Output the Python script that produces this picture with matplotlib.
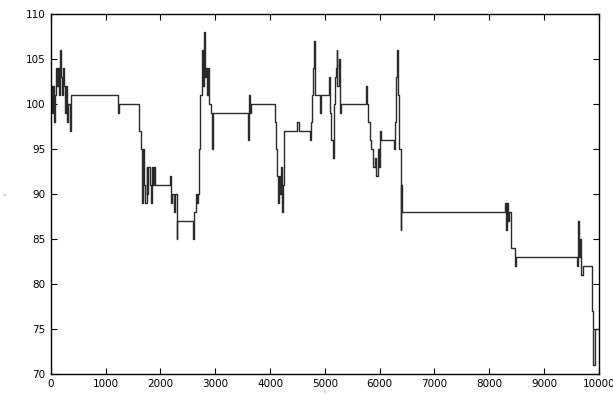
import numpy as np
import matplotlib
matplotlib.use("Agg")
import matplotlib.pyplot as plt

plt.rcParams["font.family"] = ["DejaVu Sans"]

# step points (x = sample index, y = value)
x = [0, 20, 40, 55, 75, 95, 115, 135, 150, 170, 190, 205, 225, 245, 265, 285, 300, 320, 340, 360,
     1228, 1250, 1612, 1640, 1655, 1670, 1690, 1705, 1725, 1745, 1760, 1780, 1800, 1820, 1840, 1860,
     1880, 1900, 2172, 2190, 2210, 2240, 2270, 2293, 2300, 2597, 2610, 2640, 2660, 2680, 2700, 2730,
     2750, 2770, 2792, 2810, 2830, 2850, 2870, 2890, 2920, 2945, 2965, 3601, 3615, 3630, 3650, 4088,
     4106, 4125, 4140, 4160, 4180, 4200, 4220, 4240, 4252, 4500, 4530, 4726, 4745, 4765, 4785, 4799,
     4815, 4909, 4925, 5080, 5100, 5120, 5140, 5160, 5180, 5200, 5213, 5230, 5250, 5270, 5290, 5748,
     5765, 5790, 5821, 5850, 5880, 5910, 5931, 5960, 5980, 6004, 6020, 6259, 6280, 6300, 6320, 6340,
     6360, 6381, 6390, 6405, 8285, 8300, 8320, 8340, 8360, 8389, 8467, 8480, 9593, 9610, 9630, 9650,
     9670, 9702, 9866, 9880, 9897, 9920, 10000]
y = [102, 99, 102, 98, 101, 104, 102, 104, 101, 106, 103, 101, 104, 102, 99, 102, 98, 100, 97, 101,
     99, 100, 97, 95, 92, 89, 95, 91, 89, 93, 90, 93, 91, 89, 93, 91,
     93, 91, 92, 89, 90, 88, 90, 85, 87, 85, 88, 90, 89, 90, 95, 101,
     106, 102, 108, 103, 104, 101, 104, 100, 99, 95, 99, 96, 101, 99, 100, 98,
     95, 92, 89, 92, 90, 93, 88, 91, 97, 98, 97, 96, 98, 101, 104, 107,
     101, 99, 101, 103, 99, 96, 94, 100, 103, 104, 106, 102, 105, 99, 100, 102,
     100, 98, 96, 95, 93, 94, 92, 95, 93, 97, 96, 95, 98, 103, 106, 101,
     95, 86, 91, 88, 89, 86, 89, 87, 88, 84, 82, 83, 82, 87, 83, 85,
     81, 82, 81, 77, 71, 75, 75]

xticks = list(range(0, 10001, 1000))
yticks = list(range(70, 111, 5))

fig = plt.figure(figsize=(6.13, 3.94), dpi=100)
ax = fig.add_axes([0.083, 0.051, 0.894, 0.914])
ax.plot(x, y, drawstyle="steps-post", color="#2a2a2a", lw=1.0)

ax.set_xlim(0, 10000)
ax.set_ylim(70, 110)
ax.set_xticks(xticks)
ax.set_yticks(yticks)
ax.tick_params(direction="in", length=4, width=0.8, labelsize=7.5,
               top=True, right=True, pad=4)
for s in ax.spines.values():
    s.set_linewidth(1.0)

# faint, tiny axis labels as in the scan
ax.set_ylabel("f", fontsize=4, color="#999999", labelpad=12)
ax.set_xlabel("t", fontsize=4, color="#999999", labelpad=0)

fig.savefig("out.png", dpi=100)
